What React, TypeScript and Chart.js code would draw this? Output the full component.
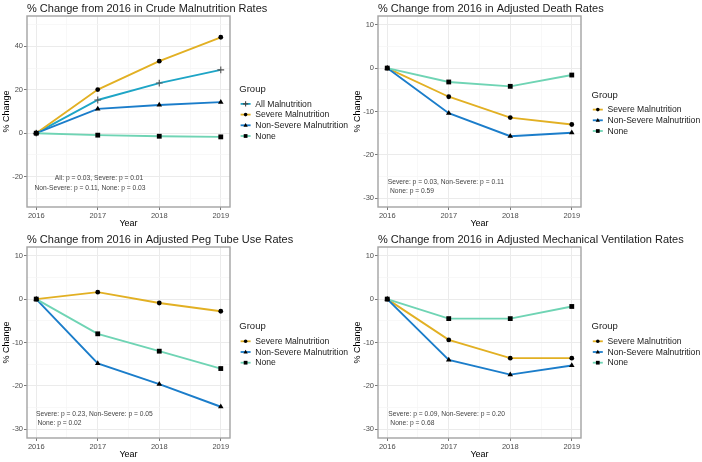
import React, { useEffect, useRef } from 'react';
import { Chart, registerables } from 'chart.js';
Chart.register(...registerables);

const FONT = '"Liberation Sans", Arial, Helvetica, sans-serif';

// ---- data ----
const years = [2016, 2017, 2018, 2019];
const xGridValues = [2016, 2016.5, 2017, 2017.5, 2018, 2018.5, 2019];

const crudeAll = [0, 15.3, 23.1, 29.2];
const crudeSevere = [0, 20.1, 33.2, 44.2];
const crudeNonSevere = [0, 11.2, 13.0, 14.3];
const crudeNone = [0, -0.9, -1.4, -1.7];

const deathSevere = [0, -6.6, -11.4, -13.0];
const deathNonSevere = [0, -10.4, -15.7, -14.9];
const deathNone = [0, -3.2, -4.2, -1.6];

const pegSevere = [0, 1.6, -0.9, -2.8];
const pegNonSevere = [0, -14.8, -19.6, -24.8];
const pegNone = [0, -8.0, -12.0, -16.0];

const ventSevere = [0, -9.4, -13.6, -13.6];
const ventNonSevere = [0, -14.0, -17.4, -15.3];
const ventNone = [0, -4.5, -4.5, -1.7];

const yMajorCrude = [-20, 0, 20, 40];
const yGridCrude = [-30, -20, -10, 0, 10, 20, 30, 40, 50];
const yMajorAdj = [-30, -20, -10, 0, 10];
const yGridAdj = [-30, -25, -20, -15, -10, -5, 0, 5, 10];

const notesCrude = ['All: p = 0.03, Severe: p = 0.01', 'Non-Severe: p = 0.11, None: p = 0.03'];
const notesDeath = ['Severe: p = 0.03, Non-Severe: p = 0.11', 'None: p = 0.59'];
const notesPeg = ['Severe: p = 0.23, Non-Severe: p = 0.05', 'None: p = 0.02'];
const notesVent = ['Severe: p = 0.09, Non-Severe: p = 0.20', 'None: p = 0.68'];

// ---- styles ----
const COLORS: Record<string, string> = {
  all: '#1ea5c6',
  severe: '#e2b023',
  nonsevere: '#1b7dca',
  none: '#6fd4b4',
};

type Series = { label: string; values: number[]; key: string; shape: string };
type Note = { text: string; x: number; y: number; align: 'left' | 'center' };
type Panel = {
  title: string;
  series: Series[];
  yMin: number;
  yMax: number;
  yMajor: number[];
  yGrid: number[];
  notes: Note[];
  legendTitleY: number;
  legendTitleX: number;
};

const panels: Panel[] = [
  {
    title: '% Change from 2016 in Crude Malnutrition Rates',
    series: [
      { label: 'All Malnutrition', values: crudeAll, key: 'all', shape: 'cross' },
      { label: 'Severe Malnutrition', values: crudeSevere, key: 'severe', shape: 'circle' },
      { label: 'Non-Severe Malnutrition', values: crudeNonSevere, key: 'nonsevere', shape: 'triangle' },
      { label: 'None', values: crudeNone, key: 'none', shape: 'rect' },
    ],
    yMin: -34, yMax: 54, yMajor: yMajorCrude, yGrid: yGridCrude,
    notes: [
      { text: notesCrude[0], x: 99, y: 178.3, align: 'center' },
      { text: notesCrude[1], x: 90, y: 187.7, align: 'center' },
    ],
    legendTitleY: 89.3, legendTitleX: 239.3,
  },
  {
    title: '% Change from 2016 in Adjusted Death Rates',
    series: [
      { label: 'Severe Malnutrition', values: deathSevere, key: 'severe', shape: 'circle' },
      { label: 'Non-Severe Malnutrition', values: deathNonSevere, key: 'nonsevere', shape: 'triangle' },
      { label: 'None', values: deathNone, key: 'none', shape: 'rect' },
    ],
    yMin: -32, yMax: 12, yMajor: yMajorAdj, yGrid: yGridAdj,
    notes: [
      { text: notesDeath[0], x: 36.7, y: 181.7, align: 'left' },
      { text: notesDeath[1], x: 39, y: 191.4, align: 'left' },
    ],
    legendTitleY: 95, legendTitleX: 240.5,
  },
  {
    title: '% Change from 2016 in Adjusted Peg Tube Use Rates',
    series: [
      { label: 'Severe Malnutrition', values: pegSevere, key: 'severe', shape: 'circle' },
      { label: 'Non-Severe Malnutrition', values: pegNonSevere, key: 'nonsevere', shape: 'triangle' },
      { label: 'None', values: pegNone, key: 'none', shape: 'rect' },
    ],
    yMin: -32, yMax: 12, yMajor: yMajorAdj, yGrid: yGridAdj,
    notes: [
      { text: notesPeg[0], x: 36, y: 182.7, align: 'left' },
      { text: notesPeg[1], x: 37.5, y: 192.3, align: 'left' },
    ],
    legendTitleY: 95.7, legendTitleX: 239.3,
  },
  {
    title: '% Change from 2016 in Adjusted Mechanical Ventilation Rates',
    series: [
      { label: 'Severe Malnutrition', values: ventSevere, key: 'severe', shape: 'circle' },
      { label: 'Non-Severe Malnutrition', values: ventNonSevere, key: 'nonsevere', shape: 'triangle' },
      { label: 'None', values: ventNone, key: 'none', shape: 'rect' },
    ],
    yMin: -32, yMax: 12, yMajor: yMajorAdj, yGrid: yGridAdj,
    notes: [
      { text: notesVent[0], x: 37.3, y: 182.7, align: 'left' },
      { text: notesVent[1], x: 39.3, y: 192.3, align: 'left' },
    ],
    legendTitleY: 95.7, legendTitleX: 240.5,
  },
];

const POINT_RADIUS: Record<string, number> = { circle: 2.4, triangle: 3.2, rect: 3.4, cross: 3.4 };

function drawShape(ctx: CanvasRenderingContext2D, shape: string, x: number, y: number, s: number) {
  ctx.save();
  ctx.fillStyle = '#000';
  ctx.strokeStyle = '#444';
  ctx.beginPath();
  if (shape === 'circle') {
    ctx.arc(x, y, 2.1 * s, 0, Math.PI * 2);
    ctx.fill();
  } else if (shape === 'triangle') {
    const h = 4.4 * s;
    const w = 5 * s;
    ctx.moveTo(x, y - h * 0.6);
    ctx.lineTo(x + w / 2, y + h * 0.4);
    ctx.lineTo(x - w / 2, y + h * 0.4);
    ctx.closePath();
    ctx.fill();
  } else if (shape === 'rect') {
    const a = 4.4 * s;
    ctx.fillRect(x - a / 2, y - a / 2, a, a);
  } else if (shape === 'cross') {
    const a = 3.2 * s;
    ctx.lineWidth = 1.1;
    ctx.moveTo(x - a, y);
    ctx.lineTo(x + a, y);
    ctx.moveTo(x, y - a);
    ctx.lineTo(x, y + a);
    ctx.stroke();
  }
  ctx.restore();
}

function PanelChart({ panel, left, top }: { panel: Panel; left: number; top: number }) {
  const ref = useRef<HTMLCanvasElement>(null);
  useEffect(() => {
    const canvas = ref.current;
    if (!canvas) return;
    const n = panel.series.length;
    const lineSets = panel.series.map((s, i) => ({
      label: s.label,
      data: years.map((yr, j) => ({ x: yr, y: s.values[j] })),
      borderColor: COLORS[s.key],
      backgroundColor: COLORS[s.key],
      borderWidth: 1.9,
      pointRadius: 0,
      showLine: true,
      fill: false,
      tension: 0,
      order: 10 + (n - i),
    }));
    const pointSets = panel.series.map((s, i) => ({
      label: s.label + ' pts',
      data: years.map((yr, j) => ({ x: yr, y: s.values[j] })),
      showLine: false,
      borderWidth: 0,
      pointStyle: s.shape,
      pointRadius: POINT_RADIUS[s.shape],
      pointBackgroundColor: '#000',
      pointBorderColor: s.shape === 'cross' ? '#555' : '#000',
      pointBorderWidth: s.shape === 'cross' ? 1.1 : 0,
      order: n - i,
    }));

    const decor = {
      id: 'decor',
      afterDraw(chart: any) {
        const ctx: CanvasRenderingContext2D = chart.ctx;
        const ca = chart.chartArea;
        ctx.save();
        // panel border
        ctx.strokeStyle = '#a3a3a3';
        ctx.lineWidth = 1.4;
        ctx.strokeRect(ca.left, ca.top, ca.right - ca.left, ca.bottom - ca.top);
        // title
        ctx.fillStyle = '#1a1a1a';
        ctx.font = `11px ${FONT}`;
        ctx.textBaseline = 'middle';
        ctx.textAlign = 'left';
        ctx.fillText(panel.title, ca.left, 8.5);
        // notes
        ctx.fillStyle = '#444';
        ctx.font = `6.7px ${FONT}`;
        panel.notes.forEach((nt) => {
          ctx.textAlign = nt.align;
          ctx.fillText(nt.text, nt.x, nt.y);
        });
        // legend
        ctx.textAlign = 'left';
        ctx.fillStyle = '#1a1a1a';
        ctx.font = `9.5px ${FONT}`;
        ctx.fillText('Group', panel.legendTitleX, panel.legendTitleY);
        ctx.font = `8.6px ${FONT}`;
        panel.series.forEach((s, i) => {
          const y = panel.legendTitleY + 14.6 + i * 10.7;
          const kx = panel.legendTitleX + 6.3;
          ctx.strokeStyle = COLORS[s.key];
          ctx.lineWidth = 1.8;
          ctx.beginPath();
          ctx.moveTo(kx - 5, y);
          ctx.lineTo(kx + 5, y);
          ctx.stroke();
          drawShape(ctx, s.shape, kx, y, 0.85);
          ctx.fillStyle = '#1a1a1a';
          ctx.fillText(s.label, panel.legendTitleX + 16, y + 0.3);
        });
        ctx.restore();
      },
    };

    const majorX = (v: number) => Number.isInteger(v);
    const chart = new Chart(canvas, {
      type: 'line',
      data: { datasets: [...lineSets, ...pointSets] as any },
      options: {
        animation: false,
        responsive: false,
        maintainAspectRatio: false,
        events: [],
        layout: { padding: { left: 0, top: 16, right: 121, bottom: 0 } },
        plugins: {
          legend: { display: false },
          tooltip: { enabled: false },
          title: { display: false },
        },
        scales: {
          x: {
            type: 'linear',
            min: 2015.85,
            max: 2019.15,
            afterBuildTicks: (s: any) => {
              s.ticks = xGridValues.map((v) => ({ value: v }));
            },
            afterFit: (s: any) => {
              s.height = 24;
            },
            ticks: {
              autoSkip: false,
              maxRotation: 0,
              minRotation: 0,
              padding: 1,
              color: '#4d4d4d',
              font: { family: FONT, size: 7.5 },
              callback: (v: any) => (majorX(Number(v)) ? String(v) : ''),
            },
            grid: {
              color: (c: any) => (majorX(c.tick?.value) ? '#ebebeb' : '#f5f5f5'),
              lineWidth: (c: any) => (majorX(c.tick?.value) ? 1 : 0.7),
              tickLength: 3,
              tickColor: (c: any) => (majorX(c.tick?.value) ? '#555' : 'rgba(0,0,0,0)'),
              tickWidth: 0.8,
              drawTicks: true,
            },
            border: { display: false },
            title: {
              display: true,
              text: 'Year',
              color: '#000',
              font: { family: FONT, size: 9 },
              padding: { top: 0, bottom: 2 },
            },
          },
          y: {
            type: 'linear',
            min: panel.yMin,
            max: panel.yMax,
            afterBuildTicks: (s: any) => {
              s.ticks = panel.yGrid.map((v) => ({ value: v }));
            },
            afterFit: (s: any) => {
              s.width = 27;
            },
            ticks: {
              autoSkip: false,
              padding: 1,
              color: '#4d4d4d',
              font: { family: FONT, size: 7.5 },
              callback: (v: any) => (panel.yMajor.includes(Number(v)) ? String(v) : ''),
            },
            grid: {
              color: (c: any) => (panel.yMajor.includes(c.tick?.value) ? '#ebebeb' : '#f5f5f5'),
              lineWidth: (c: any) => (panel.yMajor.includes(c.tick?.value) ? 1 : 0.7),
              tickLength: 3,
              tickColor: (c: any) => (panel.yMajor.includes(c.tick?.value) ? '#555' : 'rgba(0,0,0,0)'),
              tickWidth: 0.8,
              drawTicks: true,
            },
            border: { display: false },
            title: {
              display: true,
              text: '% Change',
              color: '#000',
              font: { family: FONT, size: 9 },
              padding: { top: 1, bottom: 0 },
            },
          },
        },
      } as any,
      plugins: [decor],
    });
    return () => chart.destroy();
  }, [panel]);

  return (
    <canvas
      ref={ref}
      width={351}
      height={231}
      style={{ position: 'absolute', left, top, width: 351, height: 231 }}
    />
  );
}

export default function App() {
  useEffect(() => {
    document.body.style.margin = '0';
  }, []);
  return (
    <div
      style={{
        position: 'fixed',
        left: 0,
        top: 0,
        width: 702,
        height: 462,
        background: '#fff',
        overflow: 'hidden',
      }}
    >
      <PanelChart panel={panels[0]} left={0} top={0} />
      <PanelChart panel={panels[1]} left={351} top={0} />
      <PanelChart panel={panels[2]} left={0} top={231} />
      <PanelChart panel={panels[3]} left={351} top={231} />
    </div>
  );
}
